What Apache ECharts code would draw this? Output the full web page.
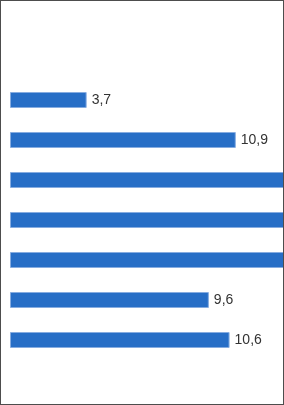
<!DOCTYPE html>
<html>
<head>
<meta charset="utf-8">
<script src="https://cdn.jsdelivr.net/npm/echarts@6/dist/echarts.min.js"></script>
<style>
  html, body { margin: 0; padding: 0; background: #fff; }
  #frame {
    width: 284px;
    height: 405px;
    box-sizing: border-box;
    border: 1px solid #4d4d4d;
    overflow: hidden;
  }
  #chart { width: 282px; height: 403px; }
</style>
</head>
<body>
<div id="frame"><div id="chart"></div></div>
<script>
// categories (no visible labels in the picture)
const categories = ['1', '2', '3', '4', '5', '6', '7']
// values; bars 3-5 run off the right edge, so their values are estimates
const values = [3.7, 10.9, 14.6, 15.2, 14.8, 9.6, 10.6]

const chart = echarts.init(document.getElementById('chart'))
chart.setOption({
  animation: false,
  grid: { left: 9, top: 79, width: 290, height: 280, outerBoundsMode: 'none', containLabel: false },
  xAxis: {
    type: 'value',
    min: 0,
    max: 14,
    show: false
  },
  yAxis: {
    type: 'category',
    data: categories,
    inverse: true,
    show: false
  },
  series: [{
    type: 'bar',
    data: values,
    barWidth: 16,
    clip: false,
    itemStyle: {
      color: '#276ec6',
      borderColor: '#86ace0',
      borderWidth: 1
    },
    label: {
      show: true,
      position: 'right',
      distance: 5,
      color: '#333',
      fontSize: 14,
      fontFamily: 'Liberation Sans, Arial, sans-serif',
      formatter: p => String(p.value).replace('.', ',')
    }
  }]
})
</script>
</body>
</html>
